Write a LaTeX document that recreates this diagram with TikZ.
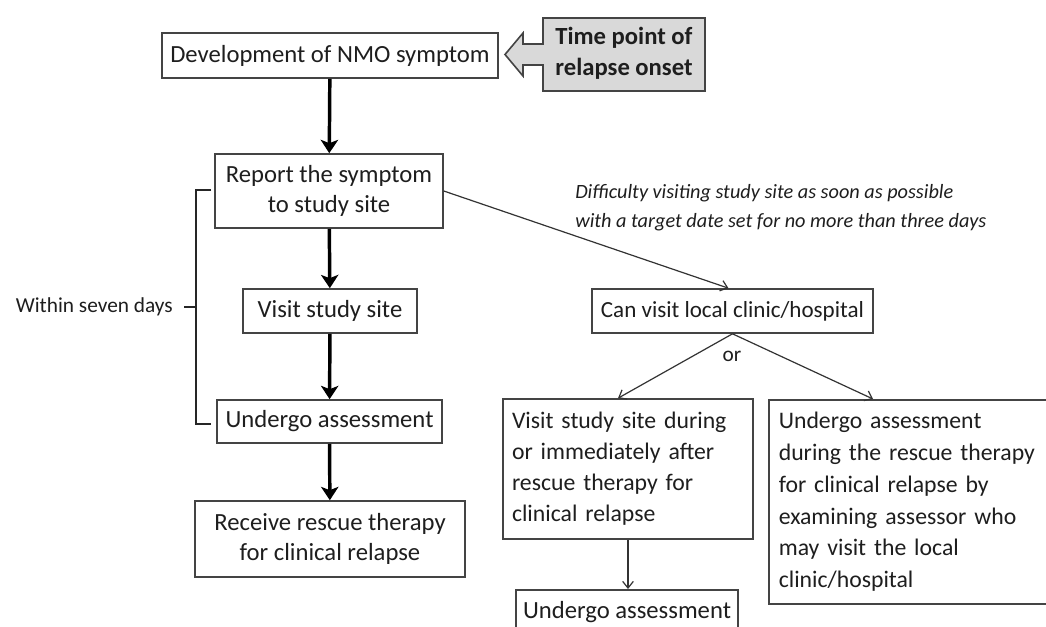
\documentclass[tikz,border=0pt]{standalone}
\usepackage{fontspec}
\setmainfont{Carlito}
\usetikzlibrary{arrows.meta,calc}
\definecolor{txt}{HTML}{1E1E1E}
\definecolor{edge}{HTML}{444444}
\definecolor{calloutgray}{HTML}{D9D9D9}
\begin{document}
\begin{tikzpicture}[x=0.75pt,y=-0.75pt,
  every node/.style={text=txt},
  box/.style={draw=edge, line width=1.2pt, inner sep=0pt, align=center,
    font=\fontsize{18.5}{23}\selectfont},
  lbox/.style={box, align=left, inner ysep=0pt},
  bigarrow/.style={-{Stealth[length=10pt,width=13pt,inset=2.5pt]}, line width=2.6pt, draw=black},
  thinarrow/.style={-{Straight Barb[length=5pt,width=8pt]}, line width=0.9pt, draw=black!80},
  smalltext/.style={font=\fontsize{16}{19}\selectfont},
]
\clip (0,0) rectangle (1046,626);
\fill[white] (0,0) rectangle (1046,626);

% left column
\node[box, minimum width=252pt, minimum height=33.75pt] (n1) at (330,55.5) {Development of NMO symptom};
\node[box, minimum width=171pt, minimum height=55.5pt] (n2) at (329,191) {Report the symptom\\to study site};
\node[box, minimum width=130.5pt, minimum height=33pt] (n3) at (330,311) {Visit study site};
\node[box, minimum width=168.75pt, minimum height=32.25pt] (n4) at (329.5,421.5) {Undergo assessment};
\node[box, minimum width=202.5pt, minimum height=57pt] (n5) at (330,539) {Receive rescue therapy\\for clinical relapse};

% callout
\draw[draw=edge, line width=1.2pt, fill=calloutgray]
  (505,54.5) -- (523,33) -- (523,44) -- (543,44) -- (543,18) -- (705,18) -- (705,91)
  -- (543,91) -- (543,65) -- (523,65) -- (523,76) -- cycle;
\node[align=left, font=\fontsize{18.5}{23}\selectfont\bfseries, inner sep=0pt] (tp) at (624,53) {Time point of\\relapse onset};

% right branch
\node[box, font=\fontsize{17.3}{21}\selectfont, minimum width=210.75pt, minimum height=33pt] (n6) at (732.5,311) {Can visit local clinic/hospital};
\node[lbox, font=\fontsize{17.8}{23.25}\selectfont, text width=174pt, inner xsep=6.75pt, minimum height=105pt] (n7) at (628,469) {Visit study site during\\or immediately after\\rescue therapy for\\clinical relapse};
\node[lbox, font=\fontsize{17.8}{23.8}\selectfont, text width=240pt, inner xsep=7.5pt, minimum height=153pt, anchor=north west] (n8) at (768,399) {Undergo assessment\\during the rescue therapy\\for clinical relapse by\\examining assessor who\\may visit the local\\clinic/hospital};
\node[box, minimum width=166.5pt, minimum height=33pt, anchor=north] (n9) at (627,589) {Undergo assessment};

% texts
\node[font=\fontsize{15.2}{21.75}\selectfont\itshape, align=left, anchor=west, inner sep=0pt] (diff) at (575,207.5)
  {Difficulty visiting study site as soon as possible\\with a target date set for no more than three days};
\node[smalltext, anchor=east, inner sep=0pt] (within) at (173,307) {Within seven days};
\node[smalltext, inner sep=0pt] (or) at (732,356) {or};

% arrows left column
\draw[bigarrow] (n1) -- (n2);
\draw[bigarrow] (n2) -- (n3);
\draw[bigarrow] (n3) -- (n4);
\draw[bigarrow] (n4) -- (n5);

% bracket
\draw[line width=1.1pt, draw=black!85] ($(n2.west)+(-3,-1)$) -- ++(-15,0) |- ($(n4.west)+(-5,2.5)$);
\draw[line width=1.1pt, draw=black!85] (within.east) ++(11,0) -- ++(13,0);

% thin arrows
\draw[thinarrow] (n2.east) -- ($(n6.north)+(-4,0)$);
\draw[thinarrow] (n6.south) -- ($(n7.north)+(-10,0)$);
\draw[thinarrow] (n6.south) -- ($(n8.north west)+(105,0)$);
\draw[thinarrow] (n7.south) -- (n7.south |- n9.north);
\end{tikzpicture}
\end{document}
